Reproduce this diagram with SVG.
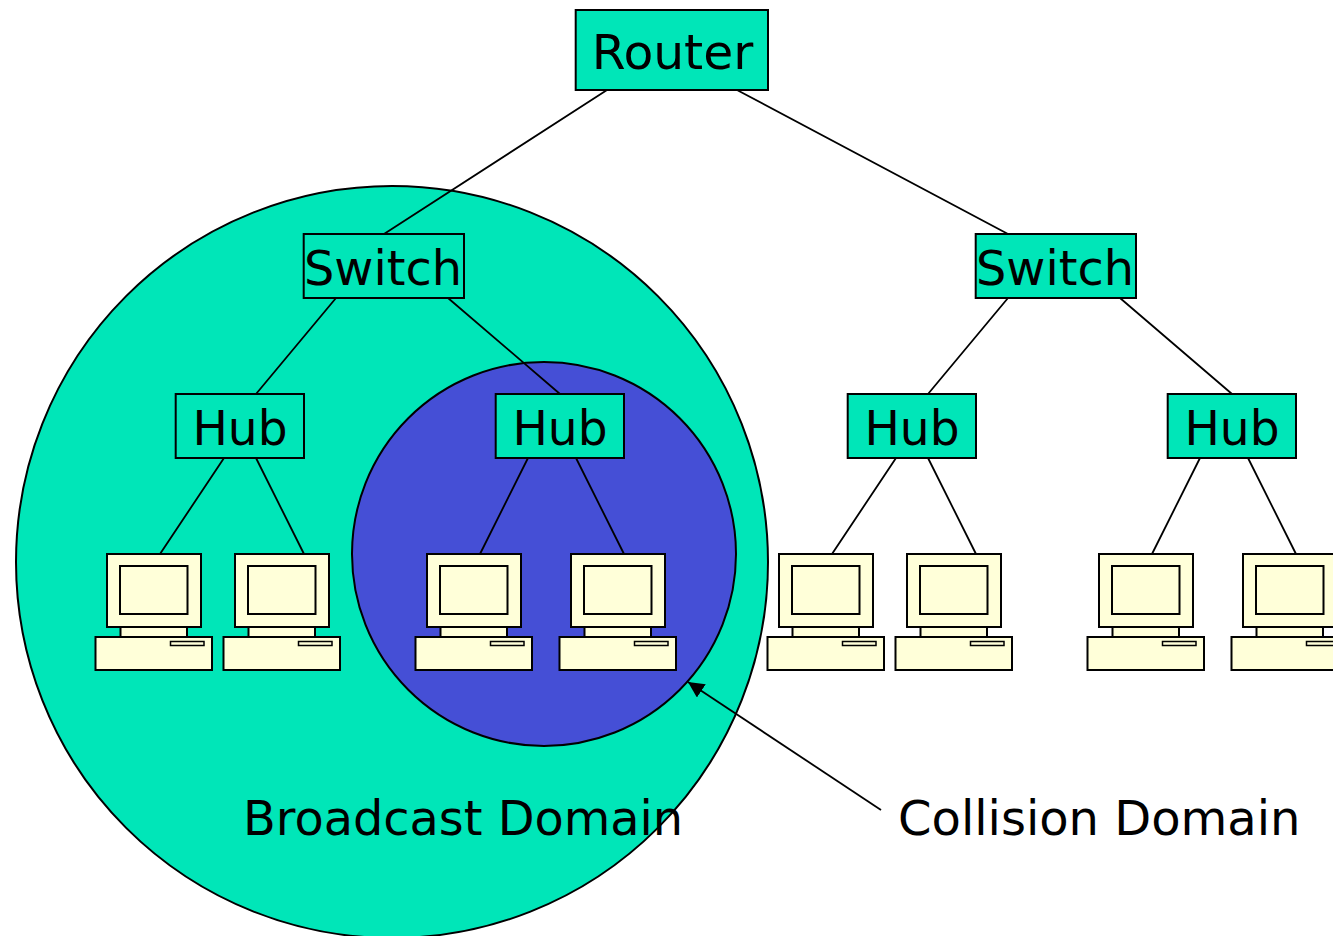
<svg xmlns="http://www.w3.org/2000/svg" xmlns:xlink="http://www.w3.org/1999/xlink" width="1333" height="936" viewBox="0 0 1333 936">
<style>
.box{fill:#00e6b8;stroke:#000;stroke-width:2}
.dom{stroke:#000;stroke-width:2}
.t{font-family:"DejaVu Sans",Verdana,sans-serif;font-size:48px;fill:#000}
.c{fill:#ffffd9;stroke:#000;stroke-width:2}
.l{stroke:#000;stroke-width:1.800;fill:none}
</style>
<defs>
<marker id="ah" markerUnits="userSpaceOnUse" markerWidth="18" markerHeight="18" refX="16" refY="8" orient="auto"><path d="M0 0L16 8L0 16Z" fill="#000"/></marker>
<g id="pc">
<rect class="c" x="107" y="554" width="94" height="73"/>
<rect class="c" x="120" y="566" width="67.500" height="48"/>
<rect class="c" x="120.500" y="627" width="66.500" height="10"/>
<rect class="c" x="95.500" y="637" width="116.500" height="33"/>
<rect class="c" x="170.500" y="641.500" width="33.500" height="4" style="stroke-width:1.500"/>
</g>
</defs>
<rect width="1333" height="936" fill="#fff"/>
<g id="broadcast-domain"><circle class="dom" cx="392" cy="562" r="376" fill="#00e6b8"/></g>
<g id="collision-domain"><circle class="dom" cx="544" cy="554" r="192" fill="#454fd6"/></g>
<g id="connectors">
<path class="l" d="M607 90L384 234M737 90L1008 234M336 298L256 394M448 298L560 394M1008 298L928 394M1120 298L1232 394"/>
<path class="l" d="M224 458L160 554M256 458L304 554M528 458L480 554M576 458L624 554M896 458L832 554M928 458L976 554M1200 458L1152 554M1248 458L1296 554"/>
<path class="l" d="M881 810L688 682" marker-end="url(#ah)"/>
</g>
<g id="router"><rect class="box" x="575.700" y="10" width="192.300" height="80"/><text class="t" x="672.500" y="69" text-anchor="middle" textLength="161.500" lengthAdjust="spacingAndGlyphs">Router</text></g>
<g id="switch-1"><rect class="box" x="303.700" y="234" width="160.300" height="64"/><text class="t" x="383" y="285" text-anchor="middle" textLength="158" lengthAdjust="spacingAndGlyphs">Switch</text></g>
<g id="switch-2"><rect class="box" x="975.700" y="234" width="160.300" height="64"/><text class="t" x="1055" y="285" text-anchor="middle" textLength="158" lengthAdjust="spacingAndGlyphs">Switch</text></g>
<g id="hub-1"><rect class="box" x="175.700" y="394" width="128.300" height="64"/><text class="t" x="240" y="445" text-anchor="middle" textLength="95" lengthAdjust="spacingAndGlyphs">Hub</text></g>
<g id="hub-2"><rect class="box" x="495.700" y="394" width="128.300" height="64"/><text class="t" x="560" y="445" text-anchor="middle" textLength="95" lengthAdjust="spacingAndGlyphs">Hub</text></g>
<g id="hub-3"><rect class="box" x="847.700" y="394" width="128.300" height="64"/><text class="t" x="912" y="445" text-anchor="middle" textLength="95" lengthAdjust="spacingAndGlyphs">Hub</text></g>
<g id="hub-4"><rect class="box" x="1167.700" y="394" width="128.300" height="64"/><text class="t" x="1232" y="445" text-anchor="middle" textLength="95" lengthAdjust="spacingAndGlyphs">Hub</text></g>
<g id="pc-1"><use xlink:href="#pc" href="#pc"/></g>
<g id="pc-2"><use xlink:href="#pc" href="#pc" x="128"/></g>
<g id="pc-3"><use xlink:href="#pc" href="#pc" x="320"/></g>
<g id="pc-4"><use xlink:href="#pc" href="#pc" x="464"/></g>
<g id="pc-5"><use xlink:href="#pc" href="#pc" x="672"/></g>
<g id="pc-6"><use xlink:href="#pc" href="#pc" x="800"/></g>
<g id="pc-7"><use xlink:href="#pc" href="#pc" x="992"/></g>
<g id="pc-8"><use xlink:href="#pc" href="#pc" x="1136"/></g>
<text id="label-broadcast" class="t" x="243" y="835" style="font-size:47.800px">Broadcast Domain</text>
<text id="label-collision" class="t" x="898" y="835">Collision Domain</text>
</svg>
